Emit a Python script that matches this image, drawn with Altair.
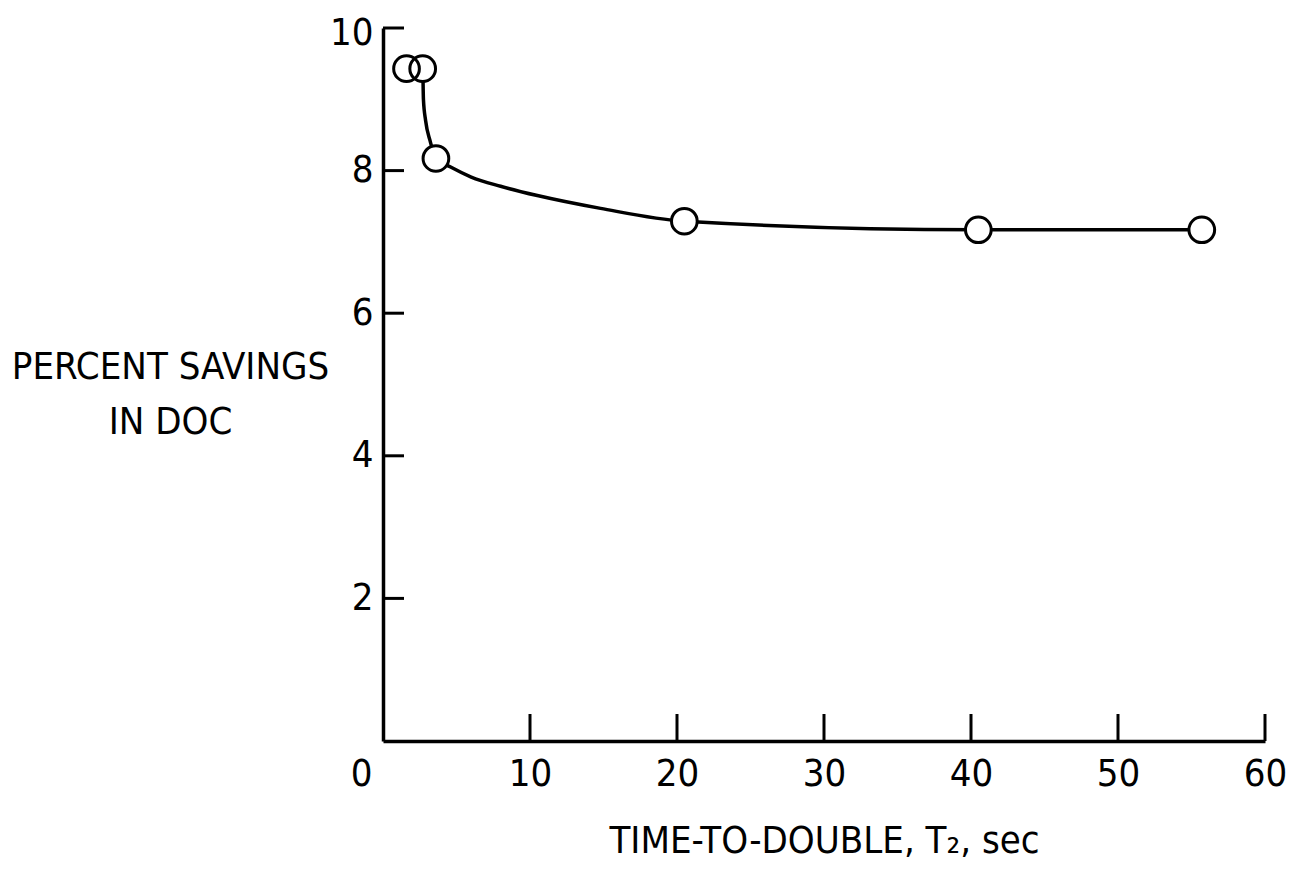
import altair as alt
import pandas as pd

# ---- data ----
x_ticks = [0, 10, 20, 30, 40, 50, 60]
x_tick_marks = [10, 20, 30, 40, 50, 60]
y_ticks = [2, 4, 6, 8, 10]

point_x = [1.6, 2.7, 3.6, 20.5, 40.5, 55.7]
point_y = [9.43, 9.43, 8.17, 7.29, 7.17, 7.17]

curve_x = [1.6, 2.7, 2.75, 2.9, 3.2, 3.6, 4.6, 6.0, 8.0, 10.5, 14.8, 20.5, 40.5, 55.7]
curve_y = [9.43, 9.43, 9.0, 8.7, 8.42, 8.17, 8.05, 7.91, 7.78, 7.65, 7.47, 7.29, 7.17, 7.17]

FONT = "Liberation Sans Narrow, DejaVu Sans Condensed, Liberation Sans, sans-serif"

points = pd.DataFrame({"x": point_x, "y": point_y})
curve = pd.DataFrame({"x": curve_x, "y": curve_y})
xt = pd.DataFrame({"x": x_tick_marks})
yt = pd.DataFrame({"y": y_ticks})

xscale = alt.Scale(domain=[0, 60], nice=False, zero=True)
yscale = alt.Scale(domain=[0, 10], nice=False, zero=True)

PLOT_H = 713

x_axis = alt.Axis(
    values=x_ticks, ticks=False, tickSize=0, grid=False,
    domainColor="black", domainWidth=3.5,
    labelFont=FONT, labelFontSize=38, labelColor="black", labelPadding=14,
    labelFlush=False, labelOverlap=False, format="d",
    labelOffset={"condition": {"test": "datum.value === 0", "value": -22}, "value": 0},
    title="TIME-TO-DOUBLE, T\u2082, sec", titleFont=FONT, titleFontSize=38,
    titleFontWeight="normal", titleColor="black", titleY=111,
    titleBaseline="alphabetic",
)
y_axis = alt.Axis(
    values=y_ticks, ticks=False, tickSize=0, grid=False,
    domainColor="black", domainWidth=3.5,
    labelFont=FONT, labelFontSize=38, labelColor="black", labelPadding=10,
    labelFlush=False, labelOverlap=False, format="d",
    labelOffset={"condition": {"test": "datum.value === 10", "value": 5}, "value": 0},
    title=["PERCENT SAVINGS", "IN DOC"], titleFont=FONT, titleFontSize=38,
    titleFontWeight="normal", titleColor="black", titleAngle=0,
    titleAlign="center", titleBaseline="alphabetic", titleX=-213, titleY=350,
    titleLineHeight=55,
)

X = alt.X("x:Q", scale=xscale, axis=x_axis)
Y = alt.Y("y:Q", scale=yscale, axis=y_axis)

line = alt.Chart(curve).mark_line(
    color="black", strokeWidth=3.5, interpolate="monotone"
).encode(x=X, y=Y)

fill = alt.Chart(points).mark_point(
    shape="circle", filled=True, fill="white", opacity=1, size=660, strokeWidth=0
).encode(x=X, y=Y)

ring = alt.Chart(points).mark_point(
    shape="circle", filled=False, stroke="black", strokeWidth=3, size=660, opacity=1
).encode(x=X, y=Y)

xtick = alt.Chart(xt).mark_rule(color="black", strokeWidth=3).encode(
    x=X,
    y=alt.value(PLOT_H),
    y2=alt.value(PLOT_H - 27),
)

ytick = alt.Chart(yt).mark_rule(color="black", strokeWidth=3).encode(
    y=Y,
    x=alt.value(0),
    x2=alt.value(21),
)

chart = alt.layer(line, xtick, ytick, fill, ring).properties(
    width=882, height=PLOT_H,
    autosize=alt.AutoSizeParams(type="none"),
    padding={"left": 375, "top": 20, "right": 25, "bottom": 120},
    background="white",
).configure_view(stroke=None)

chart.save("out.html", embed_options={"renderer": "svg", "actions": False})
